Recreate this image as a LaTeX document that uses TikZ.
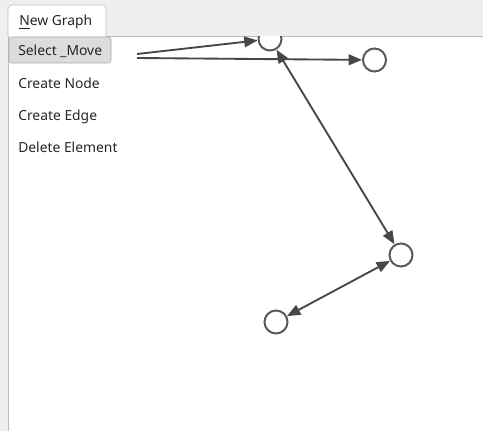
\documentclass[tikz,border=0pt]{standalone}
\usepackage{fontspec}
\setmainfont{Noto Sans}
\usetikzlibrary{arrows.meta}
\definecolor{winbg}{HTML}{EFEFEF}
\definecolor{frame}{HTML}{BDBDBD}
\definecolor{btnfill}{HTML}{DCDCDC}
\definecolor{btnline}{HTML}{A8A8A8}
\definecolor{edgecol}{HTML}{474747}
\definecolor{nodecol}{HTML}{5A5A5A}
\definecolor{txt}{HTML}{262626}
\tikzset{
  vertex/.style={circle,draw=nodecol,fill=white,line width=1.5pt,inner sep=0pt,minimum size=17.25pt},
  edge/.style={draw=edgecol,line width=1.4pt,-{Triangle[length=10pt,width=8pt]}},
  dedge/.style={edge,{Triangle[length=10pt,width=8pt]}-{Triangle[length=10pt,width=8pt]}},
  tool/.style={anchor=base west,text=txt,font=\fontsize{10.4}{12}\selectfont,inner sep=0pt}
}
\begin{document}
\begin{tikzpicture}[x=0.75pt,y=-0.75pt]
\useasboundingbox (0,0) rectangle (483,431);
\fill[winbg] (0,0) rectangle (483,431);
\draw[frame,fill=white,rounded corners=3] (8,36) -- (8,5) -- (106,5) -- (106,36);
\node[tool] (tab) at (19,26) {\underline{N}ew Graph};
\fill[white] (8.5,36.5) rectangle (483,431);
\draw[frame] (8,431) -- (8,36);
\draw[frame] (106,36) -- (483,36);
% tools
\draw[btnline,fill=btnfill,rounded corners=2] (9,37) rectangle (111,63);
\node[tool] (select) at (18,55.5) {Select \_Move};
\node[tool] (cnode) at (18,88.5) {Create Node};
\node[tool] (cedge) at (18,120.5) {Create Edge};
\node[tool] (delete) at (18,152.5) {Delete Element};
% graph
\begin{scope}
\clip (8.5,36.5) rectangle (483,431);
\node[vertex] (n1) at (270,39) {};
\node[vertex] (n2) at (374.5,60) {};
\node[vertex] (n3) at (401,255) {};
\node[vertex] (n4) at (276,322) {};
\coordinate (src1) at (137,54);
\coordinate (src2) at (137,58);
\draw[edge] (src1) -- (n1);
\draw[edge] (src2) -- (n2);
\draw[dedge] (n1) -- (n3);
\draw[dedge] (n3) -- (n4);
\end{scope}
\end{tikzpicture}
\end{document}
